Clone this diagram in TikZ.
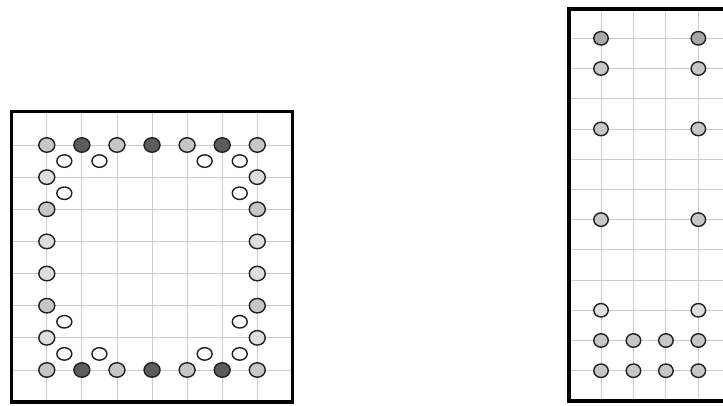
\documentclass[tikz,border=0pt]{standalone}
\usetikzlibrary{shapes.geometric}
\definecolor{gridc}{HTML}{CCCCCC}
\definecolor{midg}{HTML}{C6C6C6}
\definecolor{lightg}{HTML}{DEDEDE}
\definecolor{darkg}{HTML}{5C5C5C}
\definecolor{topg}{HTML}{A8A8A8}
\definecolor{outl}{HTML}{202020}
\tikzset{
  frame/.style={draw=black, line width=3.5pt},
  gridline/.style={draw=gridc, line width=0.9pt},
  dotL/.style={ellipse, draw=outl, line width=1.4pt, minimum width=16pt, minimum height=14.5pt, inner sep=0pt},
  dotR/.style={ellipse, draw=outl, line width=1.4pt, minimum width=14.5pt, minimum height=13.5pt, inner sep=0pt},
  hole/.style={ellipse, draw=outl, fill=white, line width=1.4pt, minimum width=15pt, minimum height=12.5pt, inner sep=0pt},
}
\begin{document}
\begin{tikzpicture}[x=1pt,y=-1pt]
\useasboundingbox (0,0) rectangle (723,405);
\clip (0,0) rectangle (723,405);
% ---------- left panel ----------
\def\lx{46.8}\def\ldx{35.08}\def\ly{145}\def\ldy{32.14}
\foreach \i in {0,...,6} \draw[gridline] ({\lx+\i*\ldx},111.7) -- ({\lx+\i*\ldx},402);
\foreach \j in {0,...,7} \draw[gridline] (11.7,{\ly+\j*\ldy}) -- (292.5,{\ly+\j*\ldy});
\node[frame, rectangle, minimum width=280.8pt, minimum height=290.3pt, inner sep=0pt] (lframe) at (152.1,256.85) {};
% top and bottom rows
\foreach \i/\c in {0/midg,1/darkg,2/midg,3/darkg,4/midg,5/darkg,6/midg}{
  \node[dotL, fill=\c] (lt\i) at ({\lx+\i*\ldx},\ly) {};
  \node[dotL, fill=\c] (lb\i) at ({\lx+\i*\ldx},{\ly+7*\ldy}) {};
}
% left and right columns
\foreach \j/\c in {1/lightg,2/midg,3/lightg,4/lightg,5/midg,6/lightg}{
  \node[dotL, fill=\c] (ll\j) at (\lx,{\ly+\j*\ldy}) {};
  \node[dotL, fill=\c] (lr\j) at ({\lx+6*\ldx},{\ly+\j*\ldy}) {};
}
% white holes
\foreach \a/\b [count=\k] in {0.5/0.5,1.5/0.5,0.5/1.5,5.5/0.5,4.5/0.5,5.5/1.5,0.5/6.5,1.5/6.5,0.5/5.5,5.5/6.5,4.5/6.5,5.5/5.5}{
  \node[hole] (h\k) at ({\lx+\a*\ldx},{\ly+\b*\ldy}) {};
}
% ---------- right panel ----------
\def\rx{601}\def\rdx{32.45}\def\ry{38.3}\def\rdy{30.22}
\foreach \i in {0,...,4} \draw[gridline] ({\rx+\i*\rdx},9) -- ({\rx+\i*\rdx},400.8);
\foreach \j in {0,...,11} \draw[gridline] (569,{\ry+\j*\rdy}) -- (740,{\ry+\j*\rdy});
\node[frame, rectangle, minimum width=200pt, minimum height=391.8pt, inner sep=0pt] (rframe) at (669,204.9) {};
\foreach \j/\c in {0/topg,1/midg,3/midg,6/midg,9/lightg,10/midg,11/midg}{
  \node[dotR, fill=\c] (ra\j) at (\rx,{\ry+\j*\rdy}) {};
  \node[dotR, fill=\c] (rd\j) at ({\rx+3*\rdx},{\ry+\j*\rdy}) {};
}
\foreach \j in {10,11}{
  \node[dotR, fill=midg] (rb\j) at ({\rx+\rdx},{\ry+\j*\rdy}) {};
  \node[dotR, fill=midg] (rc\j) at ({\rx+2*\rdx},{\ry+\j*\rdy}) {};
}
\end{tikzpicture}
\end{document}
